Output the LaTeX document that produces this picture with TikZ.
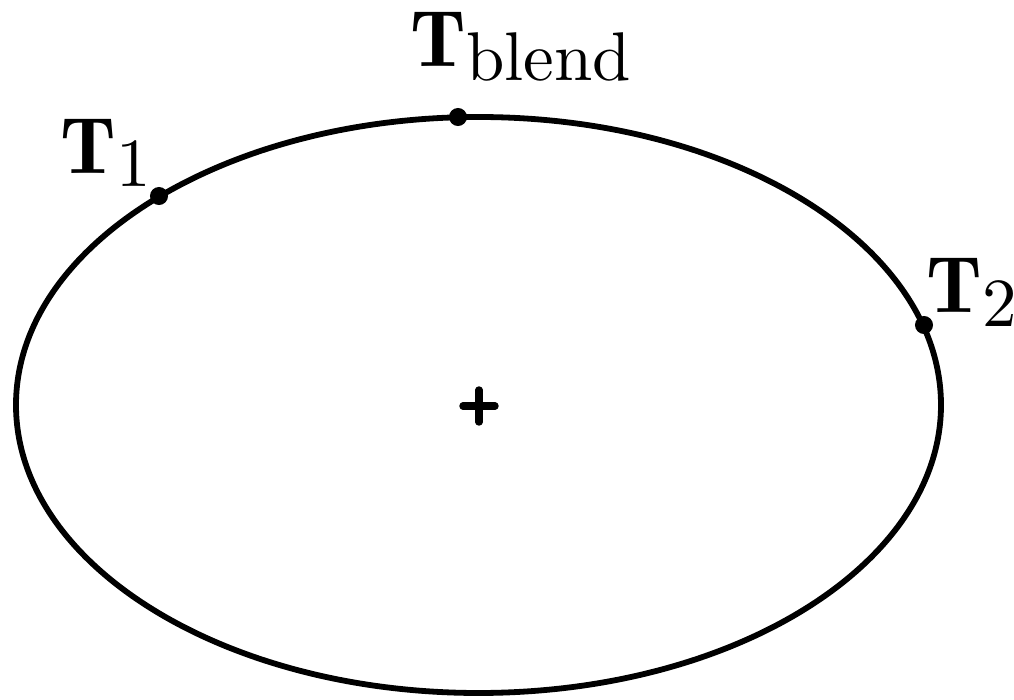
\documentclass[tikz,border=0pt]{standalone}
\usepackage{fontspec}
\newfontfamily\lmten{lmroman10-regular}[Extension=.otf]
\newfontfamily\lmdemi{lmromandemi10-regular}[Extension=.otf]
\newcommand{\biglabel}[1]{{\lmdemi\fontsize{22.8}{24}\selectfont T}\raisebox{-3.7pt}{\lmten\fontsize{19.6}{20}\selectfont #1}}
\begin{document}
\begin{tikzpicture}[x=0.01cm,y=-0.01cm,
  curve/.style={line width=1.65pt},
  dotpt/.style={circle,fill=black,inner sep=0pt,minimum size=0.18cm},
  lbl/.style={anchor=base west,inner sep=0pt}]
\useasboundingbox (0,0) rectangle (1014,700);
\draw[curve] (478.5,405) ellipse [x radius=462.5, y radius=288];
\node[dotpt] (t1) at (159,196) {};
\node[dotpt] (tb) at (458,117) {};
\node[dotpt] (t2) at (924,325) {};
\coordinate (c) at (479,406);
\draw[line width=2.1pt,line cap=round] ([xshift=-0.16cm]c) -- ([xshift=0.16cm]c);
\draw[line width=2.1pt,line cap=round] ([yshift=-0.16cm]c) -- ([yshift=0.16cm]c);
\node[lbl] (l1) at (60,173) {\biglabel{1}};
\node[lbl] (lb) at (410,67) {\biglabel{blend}};
\node[lbl] (l2) at (926,313) {\biglabel{2}};
\end{tikzpicture}
\end{document}
